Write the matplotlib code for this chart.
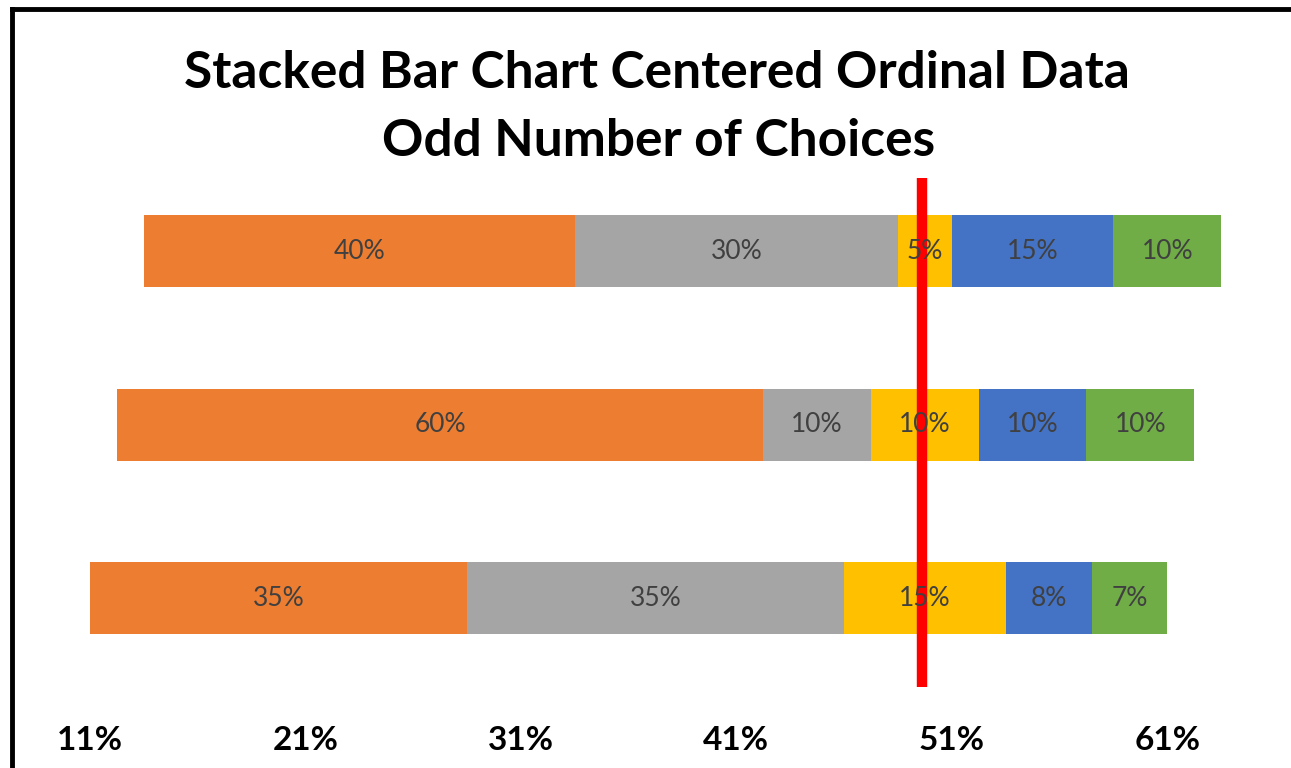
import matplotlib.pyplot as plt
import numpy as np
from matplotlib.lines import Line2D

# data
rows = ["Q1", "Q2", "Q3"]
orange = [40, 60, 35]
gray = [30, 10, 35]
yellow = [5, 10, 15]
blue = [15, 10, 8]
green = [10, 10, 7]
tick_vals = [0, 20, 40, 60, 80, 100]
tick_labels = ["11%", "21%", "31%", "41%", "51%", "61%"]
marker_x = 77.2

series = [orange, gray, yellow, blue, green]
colors = ["#ED7D31", "#A5A5A5", "#FFC000", "#4472C4", "#70AD47"]

W, H = 1291, 768
fig = plt.figure(figsize=(W / 100, H / 100), dpi=100)
ax = fig.add_axes([90 / W, (H - 684.7) / H, 1185 / W, 520 / H])

vals = np.array(series, dtype=float)
half = vals[0] + vals[1] + vals[2] / 2
offset = half.max() - half
y = np.arange(len(rows))

left = offset.copy()
for v, c in zip(vals, colors):
    ax.barh(y, v, left=left, height=0.415, color=c, edgecolor="none")
    for yi, (l, w) in enumerate(zip(left, v)):
        ax.text(l + w / 2, yi, f"{int(w)}%", ha="center", va="center",
                fontsize=19, color="#404040", family="Lato")
    left = left + v

ax.axvline(marker_x, ymin=-0.004, ymax=0.974, color="#FF0000", lw=7.5,
           solid_capstyle="butt", clip_on=False)

ax.set_xlim(0, 110)
ax.set_ylim(2.5, -0.5)
ax.set_yticks([])
ax.set_xticks(tick_vals)
ax.set_xticklabels(tick_labels, fontsize=24, fontweight="bold", family="Lato")
ax.tick_params(axis="x", length=0, pad=30)
for s in ax.spines.values():
    s.set_visible(False)

fig.text(657 / W, 1 - 74 / H, "Stacked Bar Chart Centered Ordinal Data",
         ha="center", va="center", fontsize=37, fontweight="bold", family="Lato")
fig.text(659 / W, 1 - 142 / H, "Odd Number of Choices",
         ha="center", va="center", fontsize=37, fontweight="bold", family="Lato")

# chart border (top and left visible)
fig.add_artist(Line2D([12 / W, 12 / W], [0, 1 - 8.5 / H], color="black", lw=3.5,
                      transform=fig.transFigure))
fig.add_artist(Line2D([12 / W, 1], [1 - 8.5 / H, 1 - 8.5 / H], color="black", lw=3.5,
                      transform=fig.transFigure))

fig.savefig("out.png", dpi=100)
